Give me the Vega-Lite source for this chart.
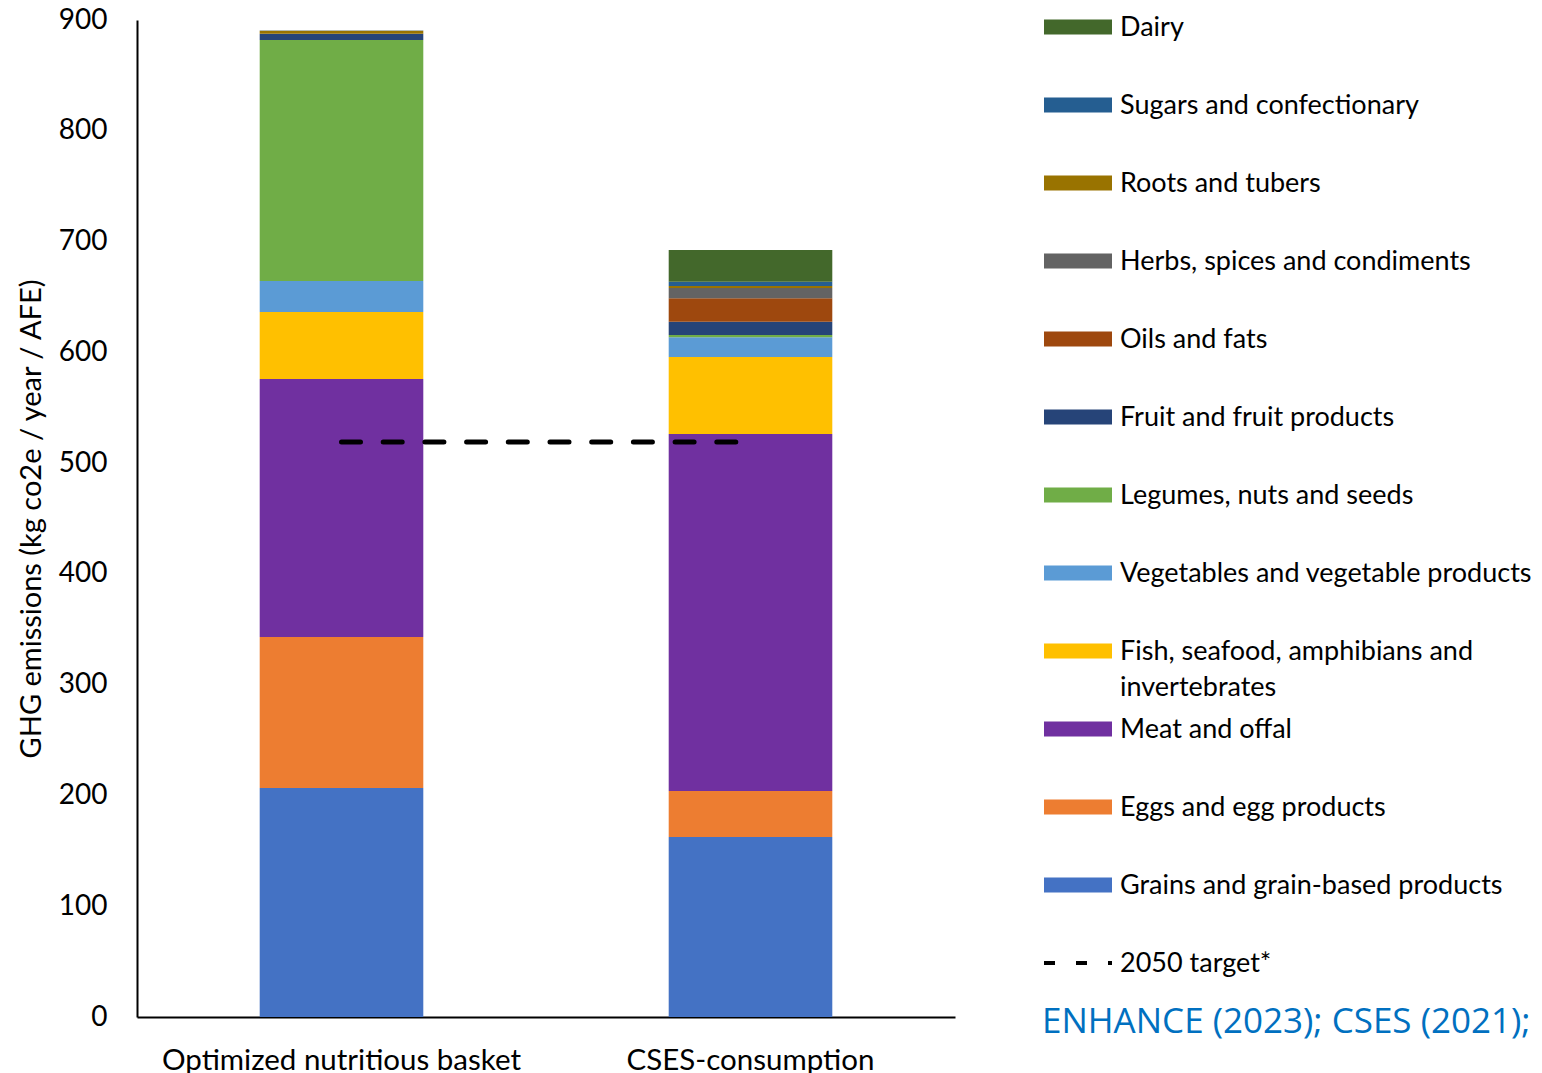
{
  "$schema": "https://vega.github.io/schema/vega-lite/v6.json",
  "width": 818,
  "height": 997,
  "padding": {"left": 17, "top": 6, "right": 0, "bottom": 0},
  "background": "white",
  "config": {"view": {"stroke": null}, "font": "Lato"},
  "datasets": {
    "bars": [
      {"basket": "Optimized nutritious basket", "category": "Grains and grain-based products", "value": 206.7, "order": 1},
      {"basket": "Optimized nutritious basket", "category": "Eggs and egg products", "value": 136.3, "order": 2},
      {"basket": "Optimized nutritious basket", "category": "Meat and offal", "value": 232.9, "order": 3},
      {"basket": "Optimized nutritious basket", "category": "Fish, seafood, amphibians and invertebrates", "value": 60.5, "order": 4},
      {"basket": "Optimized nutritious basket", "category": "Vegetables and vegetable products", "value": 28.0, "order": 5},
      {"basket": "Optimized nutritious basket", "category": "Legumes, nuts and seeds", "value": 217.5, "order": 6},
      {"basket": "Optimized nutritious basket", "category": "Fruit and fruit products", "value": 5.4, "order": 7},
      {"basket": "Optimized nutritious basket", "category": "Oils and fats", "value": 0.0, "order": 8},
      {"basket": "Optimized nutritious basket", "category": "Herbs, spices and condiments", "value": 0.2, "order": 9},
      {"basket": "Optimized nutritious basket", "category": "Roots and tubers", "value": 2.7, "order": 10},
      {"basket": "Optimized nutritious basket", "category": "Sugars and confectionary", "value": 0.4, "order": 11},
      {"basket": "Optimized nutritious basket", "category": "Dairy", "value": 0.0, "order": 12},
      {"basket": "CSES-consumption", "category": "Grains and grain-based products", "value": 162.5, "order": 1},
      {"basket": "CSES-consumption", "category": "Eggs and egg products", "value": 41.5, "order": 2},
      {"basket": "CSES-consumption", "category": "Meat and offal", "value": 322.3, "order": 3},
      {"basket": "CSES-consumption", "category": "Fish, seafood, amphibians and invertebrates", "value": 69.5, "order": 4},
      {"basket": "CSES-consumption", "category": "Vegetables and vegetable products", "value": 17.8, "order": 5},
      {"basket": "CSES-consumption", "category": "Legumes, nuts and seeds", "value": 2.1, "order": 6},
      {"basket": "CSES-consumption", "category": "Fruit and fruit products", "value": 12.0, "order": 7},
      {"basket": "CSES-consumption", "category": "Oils and fats", "value": 21.1, "order": 8},
      {"basket": "CSES-consumption", "category": "Herbs, spices and condiments", "value": 9.3, "order": 9},
      {"basket": "CSES-consumption", "category": "Roots and tubers", "value": 1.8, "order": 10},
      {"basket": "CSES-consumption", "category": "Sugars and confectionary", "value": 3.9, "order": 11},
      {"basket": "CSES-consumption", "category": "Dairy", "value": 28.6, "order": 12}
    ],
    "target": [
      {"basket": "Optimized nutritious basket", "category": "2050 target*", "value": 519},
      {"basket": "CSES-consumption", "category": "2050 target*", "value": 519}
    ]
  },
  "encoding": {
    "x": {
      "field": "basket",
      "type": "nominal",
      "sort": ["Optimized nutritious basket", "CSES-consumption"],
      "scale": {"paddingInner": 0.6, "paddingOuter": 0.3},
      "axis": {
        "title": null,
        "labelAngle": 0,
        "ticks": false,
        "tickSize": 0,
        "domainColor": "black",
        "domainWidth": 2,
        "labelFont": "Lato",
        "labelFontSize": 29.5,
        "labelColor": "black",
        "labelPadding": 29,
        "labelLimit": 600
      }
    }
  },
  "layer": [
    {
      "data": {"name": "bars"},
      "mark": {"type": "bar"},
      "encoding": {
        "y": {
          "field": "value",
          "type": "quantitative",
          "stack": "zero",
          "scale": {"domain": [0, 900], "nice": false},
          "axis": {
            "title": "GHG emissions (kg co2e / year / AFE)",
            "values": [0, 100, 200, 300, 400, 500, 600, 700, 800, 900],
            "grid": false,
            "ticks": false,
            "tickSize": 0,
            "domainColor": "black",
            "domainWidth": 2,
            "labelFont": "Lato",
            "labelFontSize": 28,
            "labelColor": "black",
            "labelPadding": 30,
            "titleFont": "Lato",
            "titleFontSize": 29,
            "titleFontWeight": "normal",
            "titleColor": "black",
            "titlePadding": 12
          }
        },
        "fill": {
          "field": "category",
          "type": "nominal",
          "scale": {
            "domain": ["Dairy", "Sugars and confectionary", "Roots and tubers", "Herbs, spices and condiments", "Oils and fats", "Fruit and fruit products", "Legumes, nuts and seeds", "Vegetables and vegetable products", "Fish, seafood, amphibians and invertebrates", "Meat and offal", "Eggs and egg products", "Grains and grain-based products"],
            "range": ["#43682B", "#255E91", "#997300", "#636363", "#9E480E", "#264478", "#70AD47", "#5B9BD5", "#FFC000", "#7030A0", "#ED7D31", "#4472C4"]
          },
          "legend": {
            "title": null,
            "orient": "none",
            "direction": "vertical",
            "legendX": 907,
            "legendY": -5,
            "padding": 0,
            "clipHeight": 24,
            "gridAlign": "all",
            "rowPadding": 15,
            "symbolType": "M-1,-0.22H1V0.22H-1Z",
            "symbolSize": 4624,
            "symbolStrokeWidth": 0,
            "labelFont": "Lato",
            "labelFontSize": 27,
            "labelColor": "black",
            "labelLimit": 700,
            "labelOffset": 8,
            "labelBaseline": "top",
            "labelExpr": "datum.value == 'Fish, seafood, amphibians and invertebrates' ? 'Fish, seafood, amphibians and|invertebrates' : datum.label",
            "encode": {
              "labels": {
                "update": {
                  "dy": {"value": -12},
                  "lineBreak": {"value": "|"},
                  "lineHeight": {"value": 36}
                }
              }
            }
          }
        },
        "order": {"field": "order", "type": "quantitative", "sort": "ascending"}
      }
    },
    {
      "data": {"name": "target"},
      "mark": {"type": "line", "strokeDash": [19, 22.7], "strokeWidth": 5, "strokeCap": "round"},
      "encoding": {
        "y": {"field": "value", "type": "quantitative", "stack": null},
        "stroke": {
          "field": "category",
          "type": "nominal",
          "scale": {"domain": ["2050 target*"], "range": ["#000000"]},
          "legend": {
            "title": "ENHANCE (2023); CSES (2021);",
            "orient": "none",
            "direction": "vertical",
            "legendX": 905,
            "legendY": 931,
            "padding": 0,
            "clipHeight": 24,
            "titleOrient": "bottom",
            "titleAnchor": "start",
            "titleFont": "Open Sans",
            "titleFontSize": 35,
            "titleFontWeight": "normal",
            "titleColor": "#0070C0",
            "titleLimit": 800,
            "titlePadding": 28,
            "symbolType": "stroke",
            "symbolSize": 4624,
            "symbolStrokeWidth": 4,
            "symbolDash": [11, 21],
            "labelFont": "Lato",
            "labelFontSize": 27,
            "labelColor": "black",
            "labelLimit": 700,
            "labelOffset": 6,
            "labelBaseline": "top",
            "encode": {
              "labels": {
                "update": {
                  "dy": {"value": -12}
                }
              }
            }
          }
        }
      }
    }
  ]
}
